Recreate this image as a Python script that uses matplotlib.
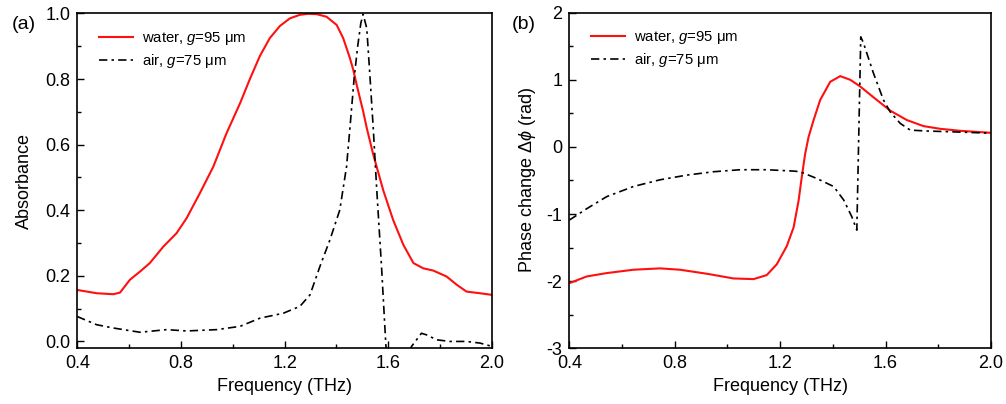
import numpy as np
import matplotlib
matplotlib.use('Agg')
import matplotlib.pyplot as plt
from matplotlib.ticker import MultipleLocator

plt.rcParams['font.family'] = ['Liberation Sans', 'DejaVu Sans']
plt.rcParams['mathtext.fontset'] = 'custom'
plt.rcParams['mathtext.it'] = 'Liberation Sans:italic'
plt.rcParams['mathtext.rm'] = 'Liberation Sans'
plt.rcParams['axes.unicode_minus'] = False

## ------------  Data  ----------------------------------
# (a) absorbance
fa_water = [0.4, 0.475, 0.539, 0.565, 0.603, 0.642, 0.68, 0.732, 0.783, 0.822,
            0.873, 0.925, 0.976, 1.028, 1.066, 1.105, 1.143, 1.182, 1.22, 1.259,
            1.29, 1.324, 1.362, 1.401, 1.426, 1.452, 1.465, 1.478, 1.503, 1.517,
            1.542, 1.581, 1.619, 1.658, 1.697, 1.735, 1.774, 1.825, 1.864, 1.902,
            1.954, 2.0]
abs_water = [0.157, 0.147, 0.144, 0.149, 0.188, 0.213, 0.239, 0.289, 0.33, 0.376,
             0.452, 0.533, 0.635, 0.726, 0.80, 0.871, 0.925, 0.962, 0.985, 0.996,
             0.999, 0.998, 0.99, 0.965, 0.925, 0.864, 0.828, 0.783, 0.702, 0.651,
             0.57, 0.46, 0.37, 0.295, 0.239, 0.223, 0.216, 0.198, 0.173, 0.152,
             0.147, 0.142]
fa_air = [0.4, 0.475, 0.539, 0.642, 0.745, 0.822, 0.938, 1.028, 1.105, 1.195,
          1.259, 1.298, 1.336, 1.375, 1.413, 1.439, 1.452, 1.468, 1.482, 1.494,
          1.503, 1.517, 1.529, 1.542, 1.555, 1.574, 1.591, 1.62, 1.65, 1.69,
          1.728, 1.748, 1.787, 1.838, 1.902, 1.954, 2.0]
abs_air = [0.076, 0.051, 0.041, 0.028, 0.036, 0.032, 0.036, 0.046, 0.071, 0.086,
           0.107, 0.142, 0.228, 0.31, 0.401, 0.533, 0.65, 0.80, 0.90, 0.97,
           0.998, 0.955, 0.813, 0.651, 0.47, 0.228, -0.015, -0.09, -0.09, -0.015,
           0.025, 0.02, 0.005, 0.0, 0.0, -0.005, -0.015]

# (b) phase change
fb_water = [0.4, 0.466, 0.542, 0.643, 0.744, 0.82, 0.922, 1.023, 1.099, 1.149,
            1.187, 1.225, 1.251, 1.27, 1.282, 1.295, 1.308, 1.327, 1.352, 1.39,
            1.428, 1.466, 1.504, 1.554, 1.618, 1.681, 1.744, 1.807, 1.883, 2.0]
ph_water = [-2.03, -1.93, -1.88, -1.83, -1.81, -1.83, -1.89, -1.96, -1.97, -1.91,
            -1.75, -1.48, -1.2, -0.8, -0.45, -0.1, 0.15, 0.40, 0.70, 0.97,
            1.055, 1.0, 0.90, 0.74, 0.54, 0.40, 0.31, 0.27, 0.24, 0.21]
fb_air = [0.4, 0.466, 0.542, 0.643, 0.744, 0.846, 0.947, 1.048, 1.149, 1.251,
          1.276, 1.339, 1.403, 1.441, 1.472, 1.491, 1.506, 1.516, 1.554, 1.592,
          1.618, 1.656, 1.694, 1.757, 1.845, 1.959, 2.0]
ph_air = [-1.09, -0.92, -0.74, -0.59, -0.49, -0.42, -0.37, -0.34, -0.34, -0.36,
          -0.37, -0.47, -0.59, -0.79, -1.04, -1.24, 1.64, 1.55, 1.10, 0.70,
          0.52, 0.35, 0.25, 0.237, 0.226, 0.21, 0.205]

labels = ['water, $\\mathit{g}$=95 \u03bcm', 'air, $\\mathit{g}$=75 \u03bcm']

## ------------  Plot  ---------------
fig = plt.figure(figsize=(10.06, 4.04), dpi=100)
ax1 = fig.add_axes([0.0768, 0.1386, 0.4122, 0.828])
ax2 = fig.add_axes([0.566, 0.138, 0.419, 0.8306])

dashdot = (0, (5, 2.5, 1.5, 2.5))

ax1.plot(fa_water, abs_water, color='#ff1010', lw=1.5, label=labels[0])
ax1.plot(fa_air, abs_air, color='black', lw=1.2, ls=dashdot, label=labels[1])
ax1.set_xlim(0.4, 2.0)
ax1.set_ylim(-0.02, 1.0)
ax1.set_xticks([0.4, 0.8, 1.2, 1.6, 2.0])
ax1.set_xticklabels(['0.4', '0.8', '1.2', '1.6', '2.0'])
ax1.xaxis.set_minor_locator(MultipleLocator(0.2))
ax1.set_yticks([0.0, 0.2, 0.4, 0.6, 0.8, 1.0])
ax1.set_yticklabels(['0.0', '0.2', '0.4', '0.6', '0.8', '1.0'])
ax1.yaxis.set_minor_locator(MultipleLocator(0.1))
ax1.set_xlabel('Frequency (THz)', fontsize=13)
ax1.set_ylabel('Absorbance', fontsize=13, labelpad=9)
fig.text(0.012, 0.96, '(a)', fontsize=14, va='top')

ax2.plot(fb_water, ph_water, color='#ff1010', lw=1.5, label=labels[0])
ax2.plot(fb_air, ph_air, color='black', lw=1.2, ls=dashdot, label=labels[1])
ax2.set_xlim(0.4, 2.0)
ax2.set_ylim(-3, 2)
ax2.set_xticks([0.4, 0.8, 1.2, 1.6, 2.0])
ax2.set_xticklabels(['0.4', '0.8', '1.2', '1.6', '2.0'])
ax2.xaxis.set_minor_locator(MultipleLocator(0.2))
ax2.yaxis.set_major_locator(MultipleLocator(1))
ax2.yaxis.set_minor_locator(MultipleLocator(0.5))
ax2.set_xlabel('Frequency (THz)', fontsize=13)
ax2.set_ylabel('Phase change $\\Delta\\mathit{\\phi}$ (rad)', fontsize=13, labelpad=6)
fig.text(0.509, 0.96, '(b)', fontsize=14, va='top')

for ax in (ax1, ax2):
    ax.tick_params(which='both', direction='in', labelsize=13, top=False, right=False)
    ax.tick_params(which='major', length=5, width=1.0, pad=5)
    ax.tick_params(which='minor', length=3, width=1.0)
    for s in ax.spines.values():
        s.set_linewidth(1.2)
    ax.legend(loc='upper left', bbox_to_anchor=(0.02, 0.99), frameon=False,
              fontsize=10.7, handlelength=2.3, handletextpad=0.6, labelspacing=0.34)

fig.savefig('out.png', dpi=100)
